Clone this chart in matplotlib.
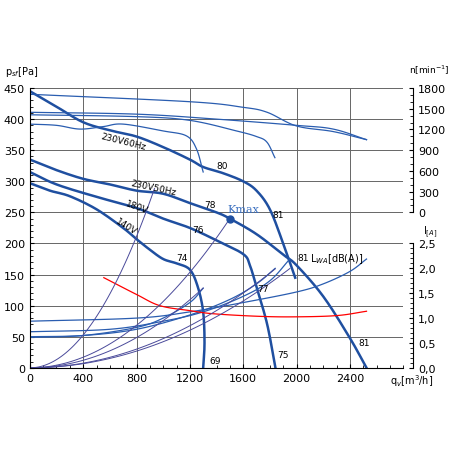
import matplotlib.pyplot as plt
import numpy as np
from matplotlib.ticker import MultipleLocator, FixedLocator

# pressure curves (q m3/h, p Pa)
q60 = [0, 200, 400, 600, 800, 1000, 1200, 1300, 1450, 1600, 1700, 1800, 1900, 1990]
p60 = [445, 420, 395, 382, 372, 355, 335, 323, 313, 300, 285, 255, 200, 145]
q50 = [0, 200, 400, 600, 800, 1000, 1200, 1400, 1500, 1700, 1900, 2000, 2200, 2400, 2525]
p50 = [335, 318, 304, 295, 285, 280, 265, 250, 240, 215, 182, 165, 115, 48, 0]
q180 = [0, 200, 500, 800, 1000, 1200, 1400, 1600, 1650, 1700, 1780, 1842]
p180 = [315, 295, 275, 257, 240, 225, 205, 183, 165, 130, 70, 0]
q140 = [0, 150, 300, 500, 700, 800, 900, 1000, 1100, 1200, 1260, 1300, 1310, 1300]
p140 = [297, 285, 276, 255, 225, 207, 190, 175, 168, 158, 130, 90, 40, 0]

# speed curves (in Pa coordinates of the chart)
rpm_curves = [
    ([0, 1200, 1600, 1780, 2000, 2275, 2525], [440, 428, 419, 411, 389, 380, 367]),
    ([0, 800, 1400, 2000, 2275, 2525], [411, 408, 400, 390, 384, 367]),
    ([0, 800, 1200, 1550, 1700, 1778, 1838], [407, 404, 398, 381, 372, 363, 338]),
    ([0, 200, 375, 550, 700, 1000, 1175, 1250, 1300], [392, 390, 384, 388, 392, 381, 373, 352, 315]),
]

# current curves (in Pa coordinates)
cur_red = ([555, 800, 975, 1200, 1375, 1700, 1975, 2300, 2525], [145, 118, 100, 92, 87, 83, 82, 84, 91])
cur_blue = [
    ([0, 800, 1200, 1600, 2000, 2200, 2400, 2525], [75, 80, 90, 105, 122, 135, 155, 175]),
    ([0, 600, 1000, 1300, 1600, 1800, 1950], [58, 62, 75, 90, 115, 140, 175]),
    ([0, 400, 800, 1200, 1500, 1700, 1840], [50, 52, 62, 85, 110, 135, 160]),
    ([0, 400, 800, 1000, 1200, 1300], [49, 52, 65, 80, 105, 128]),
]

# system curves p = k*q^2
sys_k = [3.3e-4, 1.067e-4, 7.6e-5, 4.7e-5, 4.2e-5]
sys_qmax = [935, 1500, 1300, 1840, 1950]

labels = [("230V60Hz", 700, 365, -14), ("230V50Hz", 925, 290, -12),
          ("180V", 800, 260, -20), ("140V", 725, 228, -32)]
numbers = [("80", 1440, 325), ("78", 1350, 262), ("81", 1862, 246), ("76", 1262, 222),
           ("74", 1137, 177), ("81", 2047, 177), ("77", 1750, 127), ("69", 1387, 12),
           ("75", 1900, 22), ("81", 2505, 40)]


def smooth(x, y, n=12):
    # catmull-rom through the read points, only for drawing
    x = np.asarray(x, float)
    y = np.asarray(y, float)
    px = np.concatenate([[2 * x[0] - x[1]], x, [2 * x[-1] - x[-2]]])
    py = np.concatenate([[2 * y[0] - y[1]], y, [2 * y[-1] - y[-2]]])
    t = np.linspace(0, 1, n, endpoint=False)
    ox, oy = [], []
    for i in range(1, len(px) - 2):
        for P, out in ((px, ox), (py, oy)):
            p0, p1, p2, p3 = P[i - 1], P[i], P[i + 1], P[i + 2]
            out.extend(0.5 * (2 * p1 + (-p0 + p2) * t + (2 * p0 - 5 * p1 + 4 * p2 - p3) * t ** 2
                              + (-p0 + 3 * p1 - 3 * p2 + p3) * t ** 3))
    ox.append(x[-1])
    oy.append(y[-1])
    return ox, oy


fig = plt.figure(figsize=(4.52, 4.52), dpi=100)
ax = fig.add_axes([0.066, 0.184, 0.826, 0.619])
dark = "#1f4fa0"
thin = "#2a5db0"
purple = "#4a4a9a"

for q, p in [(q60, p60), (q50, p50), (q180, p180), (q140, p140)]:
    ax.plot(*smooth(q, p), color=dark, lw=1.8)
for q, p in rpm_curves:
    ax.plot(*smooth(q, p), color=thin, lw=0.9)
for q, p in cur_blue:
    ax.plot(*smooth(q, p), color=thin, lw=0.9)
ax.plot(*smooth(*cur_red), color="red", lw=0.9)
for k, qm in zip(sys_k, sys_qmax):
    qq = np.linspace(0, qm, 60)
    ax.plot(qq, k * qq ** 2, color=purple, lw=0.7)

ax.plot([1500], [240], "o", color=dark, ms=5)
ax.text(1600, 250, "Kmax", color="#3a6fc0", fontsize=8, family="serif", ha="center")
for t, x, y, r in labels:
    ax.text(x, y, t, fontsize=6.5, rotation=r, ha="center", va="center")
for t, x, y in numbers:
    ax.text(x, y, t, fontsize=6.5, ha="center", va="center")
ax.text(2300, 177, r"L$_{WA}$[dB(A)]", fontsize=7, ha="center", va="center")

ax.set_xlim(0, 2800)
ax.set_ylim(0, 450)
ax.set_xticks([0, 400, 800, 1200, 1600, 2000, 2400])
ax.xaxis.set_minor_locator(MultipleLocator(100))
ax.yaxis.set_major_locator(MultipleLocator(50))
ax.yaxis.set_minor_locator(MultipleLocator(10))
ax.grid(True, which="major", color="#666666", lw=0.7)
ax.axvline(2800, color="#666666", lw=0.7)
ax.tick_params(labelsize=8, direction="in", length=3)
ax.tick_params(which="minor", direction="in", length=2)
for s in ["top", "right"]:
    ax.spines[s].set_visible(False)

ax_n = ax.twinx()
ax_n.set_ylim(-2250, 1800)
ax_n.spines["right"].set_bounds(0, 1800)
ax_n.spines["right"].set_position(("outward", 7))
ax_n.yaxis.set_major_locator(FixedLocator([0, 300, 600, 900, 1200, 1500, 1800]))
ax_n.yaxis.set_minor_locator(FixedLocator(np.arange(0, 1801, 100)))

ax_i = ax.twinx()
ax_i.set_ylim(0, 5.625)
ax_i.spines["right"].set_bounds(0, 2.5)
ax_i.spines["right"].set_position(("outward", 7))
ax_i.yaxis.set_major_locator(FixedLocator([0, 0.5, 1.0, 1.5, 2.0, 2.5]))
ax_i.set_yticklabels(["0,0", "0,5", "1,0", "1,5", "2,0", "2,5"])
ax_i.yaxis.set_minor_locator(FixedLocator(np.arange(0, 2.51, 0.1)))
for a in [ax_n, ax_i]:
    for s in ["top", "left", "bottom"]:
        a.spines[s].set_visible(False)
    a.tick_params(labelsize=8, direction="in", length=3)
    a.tick_params(which="minor", direction="in", length=2)

fig.text(0.012, 0.835, r"p$_{sf}$[Pa]", fontsize=7)
fig.text(0.905, 0.835, r"n[min$^{-1}$]", fontsize=6.5)
fig.text(0.935, 0.482, r"I$_{[A]}$", fontsize=7)
fig.text(0.862, 0.148, r"q$_v$[m$^3$/h]", fontsize=7)

fig.savefig("out.png", dpi=100)
